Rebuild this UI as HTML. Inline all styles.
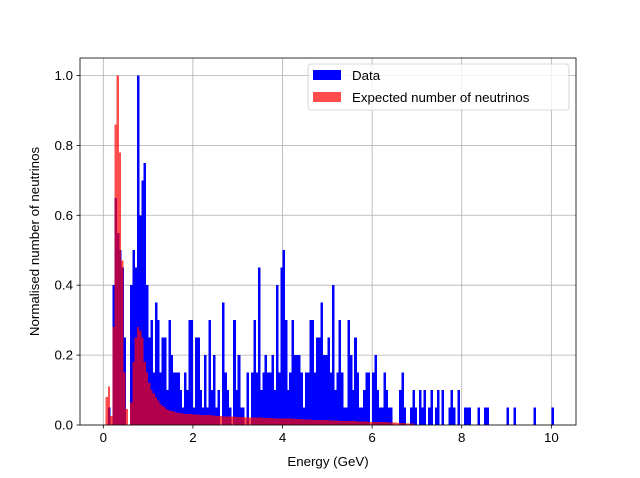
<!DOCTYPE html>
<html><head><meta charset="utf-8"><style>
body{margin:0;background:#fff;}
svg{display:block;font-family:"Liberation Sans",sans-serif;}
</style></head><body>
<svg id="chart" width="640" height="478"></svg>
<script>
const binWidth = 0.05;
const dataValues = [0,0,0.05,0,0.4,0.65,0.55,0.5,0.45,0.25,0,0,0.4,0.5,0.45,1.0,0.6,0.7,0.75,0.4,0.25,
0.3,0.15,0.35,0.3,0.15,0.25,0.25,0.1,0.3,0.2,0.15,0.15,0.15,0.1,0.05,0.15,0.1,0.3,0.3,0.05,
0.25,0.25,0.1,0.05,0.2,0.05,0.3,0.1,0.2,0.05,0.1,0,0.35,0.15,0.1,0.05,0,0.3,0.1,0.2,
0.05,0.05,0,0.15,0,0.15,0.3,0.15,0.45,0.1,0.15,0.2,0.15,0.15,0.2,0.1,0.4,0.15,0.45,0.5,
0.3,0.1,0.15,0.3,0.2,0.2,0.2,0.15,0.05,0.15,0.15,0.3,0.3,0.15,0.25,0.25,0.35,0.2,0.2,0.25,
0.15,0.4,0.1,0.15,0.3,0.15,0.05,0.05,0.3,0.2,0.1,0.25,0.15,0.05,0.05,0.1,0.15,0.15,0,0.15,
0.2,0.1,0.05,0.05,0.15,0.1,0.05,0.05,0,0,0,0.1,0.15,0.05,0,0,0.05,0.1,0.05,0,
0.1,0.05,0.1,0,0.05,0.1,0,0.05,0.1,0,0.1,0,0,0.05,0.1,0.05,0,0.1,0,0,
0.05,0.05,0.05,0,0,0,0.05,0,0,0.05,0.05,0,0,0,0,0,0,0,0,0.05,
0,0,0.05,0,0,0,0,0,0,0,0,0.05,0,0,0,0,0,0,0,0.05];
const expectedValues = [0,0.08,0.11,0.026,0.28,0.86,1.0,0.78,0.47,0.15,0.046,0,0.065,0.18,0.25,0.28,0.27,0.25,0.18,0.15,0.12,
0.1,0.09,0.08,0.07,0.06,0.055,0.05,0.045,0.042,0.04,0.038,0.036,0.035,0.034,0.033,0.032,0.032,0.031,0.031,0.03,
0.03,0.03,0.029,0.029,0.028,0.028,0.028,0.027,0.027,0.026,0.026,0.026,0.025,0.025,0.025,0.024,0.024,0.024,0.023,0.023,
0.023,0.023,0.022,0.022,0.022,0.022,0.021,0.021,0.021,0.021,0.02,0.02,0.02,0.02,0.02,0.019,0.019,0.019,0.019,0.019,
0.018,0.018,0.018,0.018,0.017,0.017,0.017,0.017,0.016,0.016,0.016,0.016,0.015,0.015,0.015,0.015,0.014,0.014,0.014,0.014,
0.013,0.013,0.013,0.013,0.012,0.012,0.012,0.012,0.011,0.011,0.011,0.011,0.01,0.01,0.01,0.01,0.01,0.009,0.009,0.009,
0.009,0.009,0.008,0.008,0.008,0.008,0.007,0.007,0.007,0.007,0.006,0.006,0.006,0.006,0.005,0.005,0.005,0.005];
const xTicks = [0,2,4,6,8,10];
const yTicks = [0.0,0.2,0.4,0.6,0.8,1.0];
const yTickLabels = ["0.0","0.2","0.4","0.6","0.8","1.0"];

const L=80,R=576,T=58,B=425;
const xMin=-0.52,xMax=10.55,yMax=1.05;
const xs=v=>L+(v-xMin)/(xMax-xMin)*(R-L);
const ys=v=>B-v/yMax*(B-T);
const NS="http://www.w3.org/2000/svg";
const svg=document.getElementById('chart');
function mk(tag,attrs,parent){const e=document.createElementNS(NS,tag);for(const k in attrs)e.setAttribute(k,attrs[k]);(parent||svg).appendChild(e);return e;}

const grid=mk('g',{});


xTicks.forEach(t=>{const l=mk('line',{x1:xs(t),x2:xs(t),y1:T,y2:B,stroke:'#b0b0b0','stroke-width':0.8},grid);

});
yTicks.forEach(t=>{const l=mk('line',{x1:L,x2:R,y1:ys(t),y2:ys(t),stroke:'#b0b0b0','stroke-width':0.8},grid);

});

const gd=mk('g',{'shape-rendering':'crispEdges'});


dataValues.forEach((v,i)=>{if(v<=0)return;const x0=xs(i*binWidth),x1=xs((i+1)*binWidth);
const r=mk('rect',{x:x0,y:ys(v),width:x1-x0+0.3,height:ys(0)-ys(v),fill:'#0000ff'},gd);

});
const ge=mk('g',{'shape-rendering':'crispEdges'});


expectedValues.forEach((v,i)=>{if(v<=0)return;const x0=xs(i*binWidth),x1=xs((i+1)*binWidth);
const r=mk('rect',{x:x0,y:ys(v),width:x1-x0,height:ys(0)-ys(v),fill:'#ff0000','fill-opacity':0.7},ge);

});

const frame=mk('rect',{x:L,y:T,width:R-L,height:B-T,fill:'none',stroke:'#000','stroke-width':0.8});



xTicks.forEach(t=>{mk('line',{x1:xs(t),x2:xs(t),y1:B,y2:B+3.5,stroke:'#000','stroke-width':0.8});
const tx=mk('text',{x:xs(t),y:B+17,'font-size':13.3,'text-anchor':'middle'});tx.textContent=t;

});
yTicks.forEach((t,i)=>{mk('line',{x1:L-3.5,x2:L,y1:ys(t),y2:ys(t),stroke:'#000','stroke-width':0.8});
const tx=mk('text',{x:L-7,y:ys(t)+4.5,'font-size':13.3,'text-anchor':'end'});tx.textContent=yTickLabels[i];

});

const xl=mk('text',{x:(L+R)/2,y:466,'font-size':13.3,'text-anchor':'middle'});xl.textContent='Energy (GeV)';


const yl=mk('text',{x:0,y:0,'font-size':13.3,'text-anchor':'middle',transform:'translate(39,'+((T+B)/2)+') rotate(-90)'});yl.textContent='Normalised number of neutrinos';



const lg=mk('g',{});


mk('rect',{x:308,y:64,width:261,height:46,rx:3,fill:'#fff','fill-opacity':0.8,stroke:'#cccccc','stroke-width':0.8},lg);
const s1=mk('rect',{x:313,y:70,width:28,height:10,fill:'#0000ff'},lg);


const t1=mk('text',{x:352,y:80,'font-size':13.3},lg);t1.textContent='Data';


const s2=mk('rect',{x:313,y:92,width:28,height:10,fill:'#ff0000','fill-opacity':0.7},lg);


const t2=mk('text',{x:352,y:102,'font-size':13.3},lg);t2.textContent='Expected number of neutrinos';


</script>
</body></html>
